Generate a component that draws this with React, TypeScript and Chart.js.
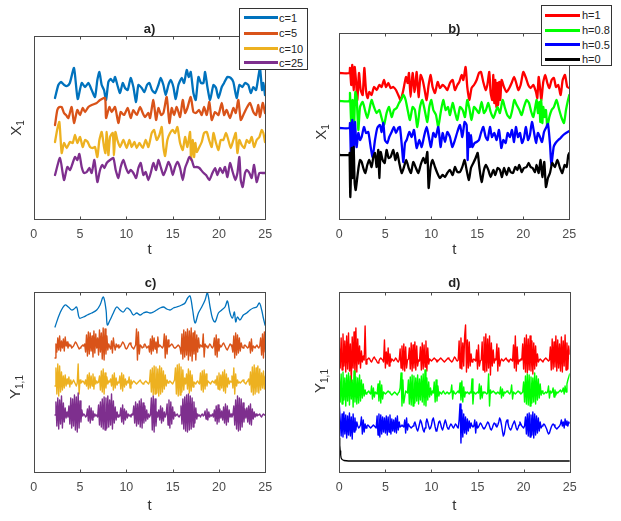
import React, { useEffect, useRef } from "react";
import { Chart, registerables } from "chart.js";
Chart.register(...registerables);

// ---------- shared ----------
const X_TICKS = [0, 5, 10, 15, 20, 25];
const DT = 0.1;
const C_T0 = 2.3;
const D_T0 = 0;

const PANEL_TITLES = ["a)", "b)", "c)", "d)"];
const LEGEND_A = ["c=1", "c=5", "c=10", "c=25"];
const LEGEND_B = ["h=1", "h=0.8", "h=0.5", "h=0"];
const COLORS_A = ["#0072BD", "#D95319", "#EDB120", "#7E2F8E"];
const COLORS_B = ["#FF0000", "#00FF00", "#0000FF", "#000000"];

// ---------- panel a: X1 (offset units), [t, value] ----------
const A_C1: [number, number][] = [
  [2.3,121],[2.66,134],[2.95,137],[3.3,134],[3.6,133],[3.9,136],[4.35,151],[4.75,120],[5.18,136],[5.54,132],
  [5.9,136],[6.08,133],[6.26,129],[6.62,122],[6.87,139],[7.09,147],[7.34,134],[7.59,129],[7.81,119],[8.06,137],
  [8.31,140],[8.6,137],[8.78,142],[9.03,134],[9.32,126],[9.61,136],[9.86,131],[10.15,129],[10.47,141],[10.76,132],
  [11.05,117],[11.3,134],[11.66,131],[11.95,127],[12.23,134],[12.49,136],[12.77,129],[13.1,126],[13.46,134],[13.71,141],
  [14.0,134],[14.25,124],[14.54,134],[14.79,139],[15.08,132],[15.33,120],[15.62,134],[15.98,141],[16.23,136],[16.52,149],
  [16.73,142],[16.95,147],[17.24,126],[17.49,119],[17.78,142],[18.06,136],[18.32,136],[18.5,147],[18.75,132],[19.04,119],
  [19.4,134],[19.68,131],[19.94,121],[20.3,132],[20.55,136],[20.91,142],[21.27,141],[21.55,137],[21.91,121],[22.2,134],
  [22.53,132],[22.81,136],[23.17,134],[23.43,126],[23.71,132],[24.0,129],[24.25,142],[24.43,151],[24.65,129],[24.79,136],[24.97,124]
];
const A_C5: [number, number][] = [
  [2.3,94],[2.55,109],[2.77,112],[3.02,112],[3.27,106],[3.49,104],[3.74,101],[4.1,112],[4.35,96],[4.71,109],
  [5.0,104],[5.29,111],[5.54,107],[5.9,112],[6.26,114],[6.8,116],[7.16,119],[7.7,121],[7.81,101],[8.17,112],
  [8.42,107],[8.78,112],[9.14,96],[9.39,107],[9.75,104],[10.15,111],[10.47,101],[10.76,109],[11.12,104],[11.48,112],
  [11.77,106],[12.02,102],[12.38,106],[12.56,101],[12.92,119],[13.21,99],[13.46,111],[13.75,104],[14.0,106],[14.36,122],
  [14.65,96],[14.9,111],[15.15,104],[15.44,112],[15.8,102],[16.09,119],[16.34,106],[16.59,111],[16.95,122],[17.24,107],
  [17.52,106],[17.85,109],[18.14,104],[18.39,112],[18.68,104],[18.96,117],[19.22,99],[19.58,107],[19.94,104],[20.3,116],
  [20.55,104],[20.83,109],[21.19,101],[21.55,111],[21.81,106],[22.09,119],[22.35,99],[22.63,104],[22.99,111],[23.35,116],
  [23.71,107],[24.0,104],[24.25,114],[24.43,102],[24.72,116],[24.97,106]
];
const A_C10: [number, number][] = [
  [2.3,77],[2.55,90],[2.77,97],[3.02,66],[3.27,76],[3.56,71],[3.92,77],[4.21,76],[4.46,84],[4.71,76],
  [5.0,82],[5.29,72],[5.54,79],[5.83,77],[6.08,72],[6.37,71],[6.62,72],[6.87,62],[7.09,79],[7.34,87],
  [7.59,72],[7.74,66],[7.88,87],[8.06,64],[8.24,82],[8.53,86],[8.67,64],[8.82,87],[9.03,79],[9.32,72],
  [9.68,79],[10.04,71],[10.33,79],[10.58,72],[10.87,77],[11.12,71],[11.41,76],[11.77,71],[12.09,79],[12.38,72],
  [12.74,86],[12.99,89],[13.28,79],[13.57,84],[13.82,92],[14.0,72],[14.18,63],[14.43,79],[14.72,86],[15.01,89],
  [15.26,86],[15.51,92],[15.8,76],[16.09,69],[16.34,82],[16.59,72],[16.88,87],[16.98,59],[17.16,79],[17.31,62],
  [17.45,76],[17.6,67],[17.88,72],[18.14,77],[18.39,86],[18.68,87],[18.93,79],[19.22,72],[19.4,86],[19.68,76],
  [19.94,69],[20.19,79],[20.47,79],[20.76,86],[21.01,79],[21.27,71],[21.55,79],[21.81,86],[21.99,66],[22.2,79],
  [22.45,74],[22.74,71],[22.99,79],[23.28,76],[23.53,82],[23.79,72],[24.07,79],[24.36,82],[24.61,89],[24.79,86],[24.97,77]
];
const A_C25: [number, number][] = [
  [2.3,44],[2.84,61],[3.27,39],[3.63,52],[3.92,49],[4.21,56],[4.46,62],[4.71,59],[4.93,65],[5.18,52],
  [5.43,46],[5.72,47],[6.01,51],[6.26,46],[6.55,59],[6.87,37],[7.16,49],[7.41,54],[7.63,51],[7.88,56],
  [8.24,59],[8.6,61],[8.85,49],[9.14,41],[9.39,52],[9.68,59],[9.97,51],[10.22,46],[10.47,49],[10.76,46],
  [11.05,41],[11.3,51],[11.55,56],[11.84,44],[12.09,47],[12.38,39],[12.63,46],[12.92,56],[13.21,49],[13.46,59],
  [13.71,52],[14.0,44],[14.25,49],[14.54,57],[14.79,52],[15.01,44],[15.26,52],[15.51,57],[15.8,51],[16.09,39],
  [16.34,51],[16.59,57],[16.8,62],[17.06,59],[17.31,52],[17.6,52],[17.88,51],[18.24,47],[18.6,44],[18.96,39],
  [19.29,46],[19.58,51],[19.83,44],[20.11,51],[20.4,46],[20.65,52],[20.91,42],[21.19,56],[21.48,47],[21.77,39],
  [21.99,46],[22.2,62],[22.35,39],[22.56,32],[22.81,46],[22.99,49],[23.28,46],[23.53,41],[23.79,54],[24.07,37],
  [24.36,46],[24.65,46],[24.97,46]
];

// ---------- panel b: X1 (offset units), [t, value] ----------
const B_H1: [number, number][] = [
  [0,146],[1.09,146],[1.16,151],[1.3,134],[1.41,154],[1.56,129],[1.67,152],[1.81,139],[1.96,119],[2.14,146],
  [2.32,129],[2.54,124],[2.72,151],[2.9,129],[3.08,121],[3.26,127],[3.51,124],[3.77,132],[4.06,129],[4.35,134],
  [4.6,132],[4.86,139],[5.07,132],[5.33,136],[5.58,131],[5.87,132],[6.16,129],[6.41,124],[6.67,119],[6.96,129],
  [7.25,142],[7.43,136],[7.57,146],[7.75,122],[7.97,146],[8.19,127],[8.41,147],[8.62,122],[8.84,144],[9.06,139],
  [9.24,131],[9.49,119],[9.71,134],[9.93,144],[10.14,132],[10.4,126],[10.69,137],[10.94,131],[11.23,134],[11.49,132],
  [11.74,129],[12.03,136],[12.32,139],[12.57,129],[12.83,134],[13.04,137],[13.3,144],[13.48,139],[13.73,152],[13.91,132],
  [14.13,119],[14.38,131],[14.64,134],[14.93,139],[15.18,146],[15.4,147],[15.65,137],[15.91,129],[16.09,134],[16.3,147],
  [16.45,126],[16.63,119],[16.74,144],[16.85,116],[16.96,139],[17.07,112],[17.17,136],[17.28,114],[17.39,137],[17.5,119],
  [17.64,139],[17.9,132],[18.19,127],[18.48,131],[18.73,136],[18.99,142],[19.2,137],[19.46,129],[19.71,134],[20.0,147],
  [20.29,141],[20.54,134],[20.8,131],[21.09,134],[21.38,127],[21.52,121],[21.67,142],[21.81,132],[21.96,119],[22.17,137],
  [22.39,144],[22.61,136],[22.83,131],[23.08,139],[23.33,141],[23.55,132],[23.8,134],[24.06,124],[24.28,139],[24.53,144],
  [24.78,132],[25.0,131]
];
const B_H08: [number, number][] = [
  [0,118],[1.09,118],[1.16,126],[1.3,96],[1.45,119],[1.59,89],[1.74,127],[1.88,122],[2.07,89],[2.25,112],
  [2.54,117],[2.79,109],[3.04,101],[3.26,109],[3.51,119],[3.77,112],[4.06,106],[4.35,109],[4.6,101],[4.86,94],
  [5.14,106],[5.4,112],[5.69,102],[5.94,109],[6.23,111],[6.49,116],[6.7,119],[6.96,124],[7.21,119],[7.43,109],
  [7.68,99],[7.97,112],[8.22,109],[8.48,92],[8.77,112],[9.02,119],[9.28,109],[9.57,97],[9.78,112],[10.0,119],
  [10.22,109],[10.51,104],[10.76,92],[11.01,106],[11.3,119],[11.56,109],[11.81,112],[12.03,104],[12.32,116],[12.57,107],
  [12.83,99],[13.12,112],[13.41,109],[13.66,102],[13.91,119],[14.13,111],[14.38,99],[14.64,112],[14.93,109],[15.18,106],
  [15.47,117],[15.72,106],[15.94,109],[16.2,116],[16.45,107],[16.74,101],[16.99,107],[17.21,112],[17.46,106],[17.75,119],
  [18.01,111],[18.26,104],[18.55,101],[18.8,109],[19.02,119],[19.28,114],[19.57,109],[19.82,104],[20.07,112],[20.36,119],
  [20.62,116],[20.87,107],[21.09,102],[21.3,112],[21.45,119],[21.59,106],[21.74,117],[21.85,97],[21.96,119],[22.07,96],
  [22.17,112],[22.32,102],[22.46,109],[22.61,92],[22.83,102],[23.08,109],[23.33,112],[23.62,119],[23.91,109],[24.17,101],
  [24.42,96],[24.64,109],[24.86,119],[25.0,124]
];
const B_H05: [number, number][] = [
  [0,91],[1.09,91],[1.16,96],[1.27,62],[1.41,99],[1.56,66],[1.7,97],[1.88,72],[2.07,86],[2.25,79],
  [2.43,82],[2.68,92],[2.9,86],[3.15,87],[3.41,72],[3.62,62],[3.88,79],[4.13,91],[4.42,94],[4.6,87],
  [4.78,96],[4.96,79],[5.22,76],[5.43,82],[5.69,87],[5.94,92],[6.16,86],[6.41,91],[6.59,92],[6.81,72],
  [6.96,57],[7.14,76],[7.32,79],[7.61,87],[7.86,82],[8.12,89],[8.41,71],[8.7,79],[8.95,72],[9.2,82],
  [9.49,92],[9.75,81],[9.96,72],[10.22,86],[10.47,82],[10.76,92],[11.01,72],[11.23,86],[11.49,77],[11.74,87],
  [12.03,82],[12.28,72],[12.57,79],[12.83,87],[13.12,94],[13.37,82],[13.62,97],[13.84,94],[13.95,59],[14.06,86],
  [14.2,72],[14.31,84],[14.46,72],[14.71,76],[14.93,77],[15.18,79],[15.4,86],[15.65,92],[15.91,82],[16.12,79],
  [16.38,92],[16.59,82],[16.85,86],[17.1,79],[17.36,89],[17.61,71],[17.83,79],[18.08,76],[18.3,86],[18.55,82],
  [18.77,89],[18.99,77],[19.2,92],[19.42,82],[19.64,86],[19.86,76],[20.07,81],[20.29,92],[20.51,79],[20.72,84],
  [20.94,97],[21.16,87],[21.38,76],[21.59,86],[21.81,82],[22.03,77],[22.25,87],[22.46,91],[22.68,95],[22.9,75],
  [23.05,54],[23.3,72],[23.51,76],[23.8,79],[24.06,81],[24.35,84],[24.64,86],[25.0,88]
];
const B_H0: [number, number][] = [
  [0,64],[1.09,64],[1.12,66],[1.2,22],[1.34,71],[1.45,41],[1.56,72],[1.67,36],[1.78,29],[1.96,42],
  [2.1,52],[2.25,59],[2.43,57],[2.61,51],[2.83,46],[3.04,54],[3.26,59],[3.51,52],[3.7,62],[3.88,66],
  [4.06,52],[4.24,69],[4.35,41],[4.49,67],[4.71,59],[4.93,56],[5.14,69],[5.36,61],[5.58,62],[5.87,69],
  [6.09,59],[6.3,66],[6.52,56],[6.78,46],[7.03,52],[7.28,59],[7.54,51],[7.79,46],[8.04,57],[8.33,51],
  [8.59,46],[8.84,54],[9.13,61],[9.35,56],[9.57,67],[9.71,31],[9.93,52],[10.14,59],[10.4,52],[10.65,46],
  [10.94,41],[11.23,44],[11.49,42],[11.74,46],[12.03,49],[12.32,44],[12.57,52],[12.83,47],[13.12,47],[13.37,52],
  [13.62,59],[13.84,49],[14.09,39],[14.31,51],[14.57,56],[14.82,61],[15.04,66],[15.22,52],[15.47,37],[15.72,49],
  [15.94,54],[16.2,49],[16.45,42],[16.74,49],[16.96,44],[17.21,51],[17.46,49],[17.68,42],[17.9,51],[18.19,44],
  [18.41,51],[18.62,47],[18.88,46],[19.13,52],[19.35,49],[19.57,54],[19.82,47],[20.07,51],[20.36,52],[20.58,56],
  [20.8,52],[21.01,51],[21.27,47],[21.45,54],[21.67,46],[21.88,59],[22.07,42],[22.28,57],[22.46,32],[22.68,41],
  [22.9,46],[23.15,56],[23.44,52],[23.7,59],[23.99,51],[24.24,46],[24.49,54],[24.71,52],[24.89,64],[25.0,66]
];

// ---------- panel c: Y1,1 (offset units) ----------
const C_C1: [number, number][] = [
  [2.3,145],[2.84,159],[3.38,167],[3.74,165],[4.1,162],[4.35,163],[4.64,165],[4.93,154],[5.36,155],[5.79,157],
  [6.26,159],[6.8,162],[7.16,167],[7.52,175],[7.81,162],[7.95,147],[8.24,152],[8.6,159],[8.96,165],[9.32,162],
  [9.68,160],[10.04,164],[10.4,162],[10.76,157],[11.12,159],[11.48,157],[11.84,159],[12.2,160],[12.56,159],[12.92,160],
  [13.28,162],[13.64,164],[14.0,165],[14.36,163],[14.72,162],[15.08,164],[15.44,165],[15.98,167],[16.34,169],[16.62,174],
  [16.88,176],[17.16,162],[17.42,149],[17.78,159],[18.14,165],[18.5,172],[18.75,179],[19.04,165],[19.29,154],[19.58,150],
  [19.94,159],[20.3,162],[20.65,165],[20.91,171],[21.19,159],[21.45,154],[21.66,160],[21.81,150],[21.99,155],[22.27,152],
  [22.63,157],[22.99,159],[23.35,162],[23.71,164],[24.07,165],[24.36,169],[24.61,162],[24.79,154],[24.97,147]
];
// t = 2.3 .. 25.0, step 0.1
const C_C5 = [
  114,128,120,134,122,136,121,131,124,133,
  121,135,126,130,124,128,126,127,124,125,
  126,128,130,129,127,125,123,124,125,126,
  127,126,128,120,137,116,140,118,139,121,
  136,115,141,119,138,124,134,117,142,120,
  139,113,144,112,143,118,136,122,128,125,
  123,131,119,134,126,122,128,125,127,124,
  125,126,128,130,129,127,124,123,124,126,
  128,129,127,125,124,123,125,127,143,112,
  140,118,127,126,124,125,127,128,126,124,
  125,126,120,133,118,136,121,134,123,130,
  119,135,125,127,126,125,124,126,138,114,
  136,118,132,125,126,127,128,127,125,124,
  124,125,126,127,126,124,118,138,113,142,
  115,140,117,143,112,141,116,144,111,139,
  118,141,112,137,120,134,124,127,126,125,
  138,115,128,126,125,124,126,128,127,125,
  124,126,134,117,137,115,133,121,127,125,
  126,128,129,127,125,123,122,124,126,128,
  127,125,120,136,114,139,117,137,119,134,
  121,129,125,124,126,127,126,125,124,125,
  130,119,133,121,126,125,124,126,127,125,
  124,126,134,117,138,114,140,120
];
const C_C10 = [
  86,104,78,108,76,106,80,100,82,96,
  84,97,86,93,88,95,85,92,88,90,
  92,90,88,86,89,108,78,92,89,90,
  91,90,88,92,86,97,83,99,84,96,
  86,98,83,95,88,91,89,90,96,82,
  101,80,103,78,99,84,95,88,91,90,
  93,86,97,82,99,84,94,87,90,89,
  96,83,99,81,97,85,93,87,91,89,
  95,84,92,88,90,91,90,89,88,89,
  90,91,92,90,89,88,89,90,91,90,
  89,88,90,102,80,104,77,106,78,105,
  79,103,76,106,78,104,80,101,83,97,
  86,92,89,90,91,90,89,88,90,92,
  104,78,107,76,108,77,105,80,102,82,
  94,88,98,83,103,79,101,81,97,85,
  90,89,88,90,91,89,88,99,82,101,
  80,102,83,98,86,91,90,89,88,90,
  91,90,89,92,87,96,83,99,82,97,
  84,100,81,102,79,98,85,94,88,91,
  90,96,84,104,78,98,86,92,89,90,
  89,90,91,92,90,89,88,90,91,93,
  87,100,80,105,77,107,78,104,80,106,
  79,103,82,99,84,101,83,96
];
const C_C25 = [
  57,70,46,74,43,72,48,76,44,69,
  50,64,54,60,55,66,48,74,44,73,
  46,77,42,75,40,79,44,71,50,62,
  56,58,57,55,56,63,51,66,49,64,
  52,61,55,58,56,57,55,67,47,70,
  45,73,43,75,42,74,44,76,45,72,
  47,78,43,71,49,65,52,60,55,57,
  56,64,50,67,48,63,52,61,54,58,
  56,57,55,58,57,66,49,70,46,68,
  48,71,45,73,44,69,49,66,51,62,
  53,58,55,57,74,42,76,40,73,46,
  60,55,62,52,66,49,64,51,60,55,
  58,68,47,72,44,70,48,65,53,60,
  56,57,58,56,55,57,66,48,73,43,
  75,41,77,40,78,42,76,43,74,45,
  70,49,64,53,58,56,57,55,57,58,
  56,57,61,53,63,52,60,55,57,56,
  58,55,62,51,66,48,67,50,63,54,
  61,52,65,49,68,47,66,50,62,55,
  58,55,57,66,47,72,43,76,41,74,
  42,73,45,69,50,63,54,64,50,66,
  48,68,47,63,53,60,55,58,56,57,
  57,58,56,55,57,58,57,57
];

// ---------- panel d: Y1,1 (offset units), t = 0 .. 25.0 step 0.1 ----------
const D_H1 = [
  125,104,134,102,138,106,131,100,136,103,
  139,101,128,88,135,104,140,96,144,100,
  133,108,126,104,121,110,116,112,146,108,
  112,113,114,113,111,110,112,114,115,113,
  112,110,109,111,113,114,113,112,110,132,
  104,120,108,124,106,118,110,113,112,111,
  112,114,113,111,110,112,123,104,126,102,
  128,101,125,104,112,113,124,103,129,101,
  127,104,130,102,126,106,112,111,125,102,
  129,103,127,105,131,101,124,108,113,112,
  111,112,113,114,113,112,110,111,112,113,
  114,113,112,111,110,111,112,113,114,113,
  112,111,110,111,113,115,114,112,111,112,
  131,104,134,103,129,106,136,147,100,132,
  104,130,106,118,110,112,113,112,111,122,
  103,127,106,111,112,130,102,135,100,138,
  101,133,104,136,97,129,106,122,109,113,
  112,128,101,124,106,111,113,112,111,112,
  113,114,112,111,110,112,113,112,111,127,
  104,136,101,125,108,112,111,113,112,128,
  103,134,100,137,99,133,102,136,101,131,
  98,129,103,126,106,118,110,112,113,112,
  111,110,112,113,114,113,112,111,112,125,
  102,133,103,130,105,136,101,132,104,128,
  101,135,100,131,106,137,102,129,103,126,
  118
];
const D_H08 = [
  95,70,98,68,100,72,94,66,97,71,
  99,67,96,73,92,65,101,70,95,68,
  94,69,97,71,92,74,88,76,82,78,
  79,80,81,79,78,86,73,84,75,80,
  79,78,88,71,91,69,87,73,80,79,
  78,79,80,81,80,79,78,77,78,79,
  80,79,78,77,79,80,84,99,66,92,
  69,75,81,80,79,92,68,95,67,97,
  66,96,69,94,71,97,68,93,72,96,
  70,98,67,102,66,94,72,90,75,84,
  77,81,79,90,70,92,71,86,76,80,
  79,78,80,81,79,78,79,80,79,78,
  79,80,87,73,81,79,78,79,80,81,
  79,89,72,91,70,85,75,80,79,80,
  79,78,80,79,93,68,80,79,78,79,
  80,79,88,73,86,74,80,79,80,79,
  78,79,98,66,82,79,80,81,80,79,
  78,79,80,79,78,85,74,83,76,80,
  79,80,81,80,79,78,80,87,73,80,
  79,78,79,80,81,80,79,78,79,80,
  90,70,96,68,98,67,97,66,95,69,
  94,70,99,68,96,72,93,74,88,77,
  81,79,78,79,80,79,80,86,74,81,
  79,80,84,75,82,77,80,79,80,81,
  82,80,81,84,78,86,80,88,92,95,
  98
];
const D_H05 = [
  68,52,36,58,35,60,38,57,34,56,
  37,59,36,55,33,58,40,54,42,50,
  46,44,45,47,55,38,52,40,48,44,
  46,47,46,45,44,45,46,47,46,45,
  44,56,37,58,35,57,38,55,40,54,
  39,56,37,55,40,57,38,53,41,52,
  40,54,39,56,42,50,45,46,47,46,
  45,52,39,54,42,48,46,45,44,45,
  46,48,50,47,43,41,44,48,52,50,
  46,42,40,44,49,53,50,46,43,44,
  47,52,54,50,45,41,42,46,50,51,
  48,44,42,45,49,52,49,45,43,44,
  46,48,47,45,44,46,48,47,45,44,
  52,68,29,62,35,58,39,55,38,53,
  41,51,44,49,46,45,46,52,39,50,
  44,45,47,49,48,46,44,43,44,46,
  48,50,49,46,43,42,44,47,49,48,
  46,45,47,50,54,52,47,41,36,38,
  44,50,52,49,45,43,42,44,47,49,
  51,48,44,42,44,47,50,48,46,45,
  44,46,55,38,58,36,59,35,57,37,
  60,34,58,37,56,39,54,41,50,44,
  46,47,48,47,45,43,40,38,39,42,
  45,47,48,47,45,44,43,44,45,46,
  48,52,46,50,44,53,47,51,46,50,
  49
];
const D_H0: [number, number][] = [
  [0,34],[0.05,27],[0.1,21],[0.15,17],[0.2,14],[0.3,12.5],[0.5,11.5],[1,11],[25,11]
];

// ---------- helpers ----------
const FONT = '"Liberation Sans", Arial, Helvetica, sans-serif';
const pairs = (p: [number, number][]) => p.map(([x, y]) => ({ x, y }));
const grid = (t0: number, v: number[]) => v.map((y, i) => ({ x: Math.round((t0 + i * DT) * 100) / 100, y }));

const boxPlugin = {
  id: "matlabBox",
  afterDraw(chart: any) {
    const { ctx, chartArea: a, scales } = chart;
    ctx.save();
    ctx.strokeStyle = "#4a4a4a";
    ctx.lineWidth = 1;
    const l = Math.round(a.left) + 0.5, t = Math.round(a.top) + 0.5;
    const r = Math.round(a.right) + 0.5, b = Math.round(a.bottom) + 0.5;
    ctx.strokeRect(l, t, r - l, b - t);
    ctx.beginPath();
    X_TICKS.forEach((v) => {
      const x = Math.round(scales.x.getPixelForValue(v)) + 0.5;
      ctx.moveTo(x, b); ctx.lineTo(x, b - 3);
      ctx.moveTo(x, t); ctx.lineTo(x, t + 3);
    });
    ctx.stroke();
    ctx.restore();
  },
};

type S = { data: { x: number; y: number }[]; color: string; width: number; tension?: number };
type PanelProps = {
  left: number; top: number; width: number; height: number;
  pad: { left: number; right: number; top: number; bottom: number };
  axisH: number; yMax: number; series: S[];
};

function Panel({ left, top, width, height, pad, axisH, yMax, series }: PanelProps) {
  const ref = useRef<HTMLCanvasElement>(null);
  useEffect(() => {
    const chart = new Chart(ref.current as HTMLCanvasElement, {
      type: "line",
      data: {
        datasets: series.map((s, i) => ({
          data: s.data,
          borderColor: s.color,
          backgroundColor: s.color,
          borderWidth: s.width,
          pointRadius: 0,
          tension: s.tension ?? 0,
          fill: false,
          order: series.length - i,
          borderJoinStyle: "round",
          borderCapStyle: "round",
        })),
      } as any,
      options: {
        animation: false,
        responsive: false,
        maintainAspectRatio: false,
        events: [],
        layout: { padding: pad },
        plugins: { legend: { display: false }, tooltip: { enabled: false }, title: { display: false } },
        scales: {
          x: {
            type: "linear",
            min: 0,
            max: 25,
            afterBuildTicks: (s: any) => { s.ticks = X_TICKS.map((v) => ({ value: v })); },
            afterFit: (s: any) => { s.height = axisH; },
            grid: { display: false },
            border: { display: false },
            ticks: { padding: 0, color: "#4d4d4d", font: { family: FONT, size: 12.5 } },
          },
          y: { type: "linear", min: 0, max: yMax, display: false },
        },
      } as any,
      plugins: [boxPlugin],
    });
    return () => chart.destroy();
  }, []);
  return (
    <canvas ref={ref} width={width} height={height}
      style={{ position: "absolute", left, top, width, height }} />
  );
}

function Legend({ left, top, width, height, labels, colors, rowY, lineX0, lineX1, textX }:
  { left: number; top: number; width: number; height: number; labels: string[]; colors: string[]; rowY: number[]; lineX0: number; lineX1: number; textX: number }) {
  return (
    <div style={{ position: "absolute", left, top, width, height, border: "1px solid #333", background: "#fff", boxSizing: "border-box" }}>
      {labels.map((lab, i) => (
        <React.Fragment key={lab}>
          <div style={{ position: "absolute", left: lineX0, top: rowY[i] - 1.5, width: lineX1 - lineX0, height: 3, background: colors[i] }} />
          <div style={{ position: "absolute", left: textX, top: rowY[i], transform: "translateY(-50%)", font: `11px ${FONT}`, color: "#222", whiteSpace: "nowrap" }}>{lab}</div>
        </React.Fragment>
      ))}
    </div>
  );
}

const txt = (x: number, y: number, content: React.ReactNode, style: React.CSSProperties = {}, rot = false) => (
  <div style={{
    position: "absolute", left: x, top: y,
    transform: rot ? "translate(-50%,-50%) rotate(-90deg)" : "translate(-50%,-50%)",
    font: `14px ${FONT}`, color: "#333", whiteSpace: "nowrap", lineHeight: 1, ...style,
  }}>{content}</div>
);

export default function App() {
  const thickA = 2.3;
  const thin = 1.4;
  const tA = 0.2;
  return (
    <div style={{ position: "fixed", left: 0, top: 0, width: 621, height: 521, background: "#fff", overflow: "hidden" }}>
      <Panel left={0} top={30} width={300} height={215}
        pad={{ left: 33.7, right: 34.7, top: 6, bottom: 0 }} axisH={26} yMax={183}
        series={[
          { data: pairs(A_C1), color: COLORS_A[0], width: thickA, tension: tA },
          { data: pairs(A_C5), color: COLORS_A[1], width: thickA, tension: tA },
          { data: pairs(A_C10), color: COLORS_A[2], width: thickA, tension: tA },
          { data: pairs(A_C25), color: COLORS_A[3], width: thickA, tension: tA },
        ]} />
      <Panel left={305} top={25} width={300} height={220}
        pad={{ left: 34.3, right: 35.7, top: 8, bottom: 0 }} axisH={26} yMax={186}
        series={[
          { data: pairs(B_H1), color: COLORS_B[0], width: thickA, tension: tA },
          { data: pairs(B_H08), color: COLORS_B[1], width: thickA, tension: tA },
          { data: pairs(B_H05), color: COLORS_B[2], width: thickA, tension: tA },
          { data: pairs(B_H0), color: COLORS_B[3], width: thickA, tension: tA },
        ]} />
      <Panel left={0} top={285} width={300} height={225}
        pad={{ left: 33.7, right: 34.7, top: 6.7, bottom: 0 }} axisH={38} yMax={180.3}
        series={[
          { data: pairs(C_C1), color: COLORS_A[0], width: 1.3, tension: 0.35 },
          { data: grid(C_T0, C_C5), color: COLORS_A[1], width: thin },
          { data: grid(C_T0, C_C10), color: COLORS_A[2], width: thin },
          { data: grid(C_T0, C_C25), color: COLORS_A[3], width: thin },
        ]} />
      <Panel left={305} top={285} width={300} height={225}
        pad={{ left: 34.3, right: 35.3, top: 6.7, bottom: 0 }} axisH={38} yMax={180.3}
        series={[
          { data: grid(D_T0, D_H1), color: COLORS_B[0], width: thin },
          { data: grid(D_T0, D_H08), color: COLORS_B[1], width: thin },
          { data: grid(D_T0, D_H05), color: COLORS_B[2], width: thin },
          { data: pairs(D_H0), color: COLORS_B[3], width: 1.3 },
        ]} />

      {txt(149.5, 28, PANEL_TITLES[0], { font: `bold 13px ${FONT}`, color: "#222" })}
      {txt(454.3, 28, PANEL_TITLES[1], { font: `bold 13px ${FONT}`, color: "#222" })}
      {txt(150.5, 282, PANEL_TITLES[2], { font: `bold 13px ${FONT}`, color: "#222" })}
      {txt(454.3, 282, PANEL_TITLES[3], { font: `bold 13px ${FONT}`, color: "#222" })}

      {txt(149.5, 248, "t", { fontSize: 15 })}
      {txt(454.3, 248, "t", { fontSize: 15 })}
      {txt(149.5, 504, "t", { fontSize: 15 })}
      {txt(454.3, 504, "t", { fontSize: 15 })}

      {txt(17, 128, <span>X<sub style={{ fontSize: 10, verticalAlign: "-3px" }}>1</sub></span>, { fontSize: 15 }, true)}
      {txt(322, 132, <span>X<sub style={{ fontSize: 10, verticalAlign: "-3px" }}>1</sub></span>, { fontSize: 15 }, true)}
      {txt(16, 387, <span>Y<sub style={{ fontSize: 10, verticalAlign: "-3px" }}>1,1</sub></span>, { fontSize: 15 }, true)}
      {txt(321, 381, <span>Y<sub style={{ fontSize: 10, verticalAlign: "-3px" }}>1,1</sub></span>, { fontSize: 15 }, true)}

      <Legend left={239} top={8} width={69} height={62} labels={LEGEND_A} colors={COLORS_A}
        rowY={[8.5, 24, 39.5, 53.5]} lineX0={4} lineX1={38} textX={39} />
      <Legend left={541} top={5} width={71} height={61} labels={LEGEND_B} colors={COLORS_B}
        rowY={[9, 24, 38.5, 53]} lineX0={3} lineX1={38} textX={40} />
    </div>
  );
}
